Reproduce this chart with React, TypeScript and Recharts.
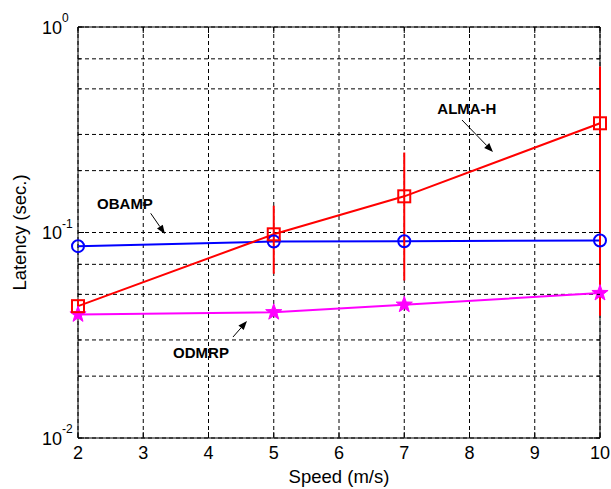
import { ComposedChart, Line, XAxis, YAxis, CartesianGrid, ErrorBar, ReferenceArea, ReferenceLine, ReferenceDot } from 'recharts';

// speed (m/s) and latency (sec.)
const speeds = [2, 5, 7, 10];
const almaH = [0.0438, 0.098, 0.15, 0.34];
const almaHLow = [0.041, 0.063, 0.0584, 0.0394];
const almaHHigh = [0.047, 0.135, 0.245, 0.643];
const obamp = [0.0858, 0.0904, 0.0907, 0.0914];
const odmrp = [0.0399, 0.0409, 0.0445, 0.0507];

const xTicks = [2, 3, 4, 5, 6, 7, 8, 9, 10];
const yTicks = [
  0.01, 0.02, 0.03, 0.04, 0.05, 0.06, 0.07, 0.08, 0.09,
  0.1, 0.2, 0.3, 0.4, 0.5, 0.6, 0.7, 0.8, 0.9, 1,
];

const seriesLabels = [
  { text: 'ALMA-H', x: 7.96, y: 0.403 },
  { text: 'OBAMP', x: 2.72, y: 0.139 },
  { text: 'ODMRP', x: 3.885, y: 0.0262 },
];
const arrows = [
  { x1: 7.885, y1: 0.3527, x2: 8.36, y2: 0.2464 },
  { x1: 3.114, y1: 0.124, x2: 3.333, y2: 0.0983 },
  { x1: 4.375, y1: 0.031, x2: 4.59, y2: 0.0371 },
];

const data = speeds.map((s, i) => ({
  speed: s,
  almaH: almaH[i],
  almaErr: [almaH[i] - almaHLow[i], almaHHigh[i] - almaH[i]],
  obamp: obamp[i],
  odmrp: odmrp[i],
}));

const W = 611;
const H = 489;
const margin = { top: 27, right: 11, bottom: 11, left: 10 };
const yAxisW = 68;
const xAxisH = 40;
const plotW = W - margin.left - margin.right - yAxisW;
const plotH = H - margin.top - margin.bottom - xAxisH;
const font = '"Liberation Sans", Arial, sans-serif';

function XTick({ x, y, payload }: any) {
  return (
    <g>
      <line x1={x} y1={y} x2={x} y2={y - 6} stroke="#000" />
      <line x1={x} y1={y - plotH} x2={x} y2={y - plotH + 6} stroke="#000" />
      <text x={x} y={y + 21} textAnchor="middle" fontSize={18} fontFamily={font} fill="#000">
        {payload.value}
      </text>
    </g>
  );
}

function YTick({ x, y, payload }: any) {
  const e = Math.log10(payload.value);
  const major = Math.abs(e - Math.round(e)) < 1e-6;
  const len = major ? 6 : 3;
  return (
    <g>
      <line x1={x} y1={y} x2={x + len} y2={y} stroke="#000" />
      <line x1={x + plotW} y1={y} x2={x + plotW - len} y2={y} stroke="#000" />
      {major && (
        <>
          <text x={x - 16} y={y + 6.5} textAnchor="end" fontSize={18} fontFamily={font} fill="#000">
            10
          </text>
          <text x={x - 16} y={y - 5} textAnchor="start" fontSize={12} fontFamily={font} fill="#000">
            {Math.round(e)}
          </text>
        </>
      )}
    </g>
  );
}

function SquareDot({ cx, cy }: any) {
  return <rect x={cx - 6} y={cy - 6} width={12} height={12} fill="none" stroke="#ff0000" strokeWidth={2} />;
}

function CircleDot({ cx, cy }: any) {
  return <circle cx={cx} cy={cy} r={6} fill="none" stroke="#0000ff" strokeWidth={2} />;
}

function StarDot({ cx, cy }: any) {
  const pts: string[] = [];
  for (let k = 0; k < 10; k++) {
    const r = k % 2 === 0 ? 8.5 : 3.4;
    const a = -Math.PI / 2 + (k * Math.PI) / 5;
    pts.push(`${cx + r * Math.cos(a)},${cy + r * Math.sin(a)}`);
  }
  return <polygon points={pts.join(' ')} fill="#ff00ff" stroke="#ff00ff" strokeWidth={1} />;
}

function Arrow({ x1, y1, x2, y2 }: any) {
  const ang = Math.atan2(y2 - y1, x2 - x1);
  const L = 9;
  const w = 3.5;
  const bx = x2 - L * Math.cos(ang);
  const by = y2 - L * Math.sin(ang);
  const px = -Math.sin(ang) * w;
  const py = Math.cos(ang) * w;
  return (
    <g>
      <line x1={x1} y1={y1} x2={bx} y2={by} stroke="#000" strokeWidth={1} />
      <polygon points={`${x2},${y2} ${bx + px},${by + py} ${bx - px},${by - py}`} fill="#000" />
    </g>
  );
}

function XTitle({ viewBox }: any) {
  return (
    <text x={viewBox.x + viewBox.width / 2} y={viewBox.y + 45} textAnchor="middle" fontSize={18.5} fontFamily={font} fill="#000">
      Speed (m/s)
    </text>
  );
}

function YTitle({ viewBox }: any) {
  const cx = 26;
  const cy = viewBox.y + viewBox.height / 2;
  return (
    <text x={cx} y={cy} transform={`rotate(-90 ${cx} ${cy})`} textAnchor="middle" fontSize={18.5} fontFamily={font} fill="#000">
      Latency (sec.)
    </text>
  );
}

export default function App() {
  return (
    <div style={{ position: 'absolute', left: 0, top: 0, width: W, height: H, background: '#fff' }}>
      <ComposedChart width={W} height={H} data={data} margin={margin}>
        <CartesianGrid stroke="#000" strokeDasharray="4 3" strokeWidth={1} />
        <XAxis
          dataKey="speed"
          type="number"
          domain={[2, 10]}
          ticks={xTicks}
          height={xAxisH}
          tickSize={0}
          tickMargin={0}
          tickLine={false}
          axisLine={false}
          tick={<XTick />}
          label={<XTitle />}
        />
        <YAxis
          type="number"
          scale="log"
          domain={[0.01, 1]}
          ticks={yTicks}
          width={yAxisW}
          tickSize={0}
          tickMargin={0}
          tickLine={false}
          axisLine={false}
          tick={<YTick />}
          label={<YTitle />}
          allowDataOverflow
        />
        <ReferenceArea x1={2} x2={10} y1={0.01} y2={1} fill="none" fillOpacity={0} stroke="#000" strokeWidth={1} />
        <Line
          dataKey="obamp"
          type="linear"
          stroke="#0000ff"
          strokeWidth={2}
          dot={<CircleDot />}
          activeDot={false}
          isAnimationActive={false}
        />
        <Line
          dataKey="odmrp"
          type="linear"
          stroke="#ff00ff"
          strokeWidth={2}
          dot={<StarDot />}
          activeDot={false}
          isAnimationActive={false}
        />
        <Line
          dataKey="almaH"
          type="linear"
          stroke="#ff0000"
          strokeWidth={2}
          dot={<SquareDot />}
          activeDot={false}
          isAnimationActive={false}
        >
          <ErrorBar dataKey="almaErr" direction="y" width={0} stroke="#ff0000" strokeWidth={2} />
        </Line>
        {arrows.map((a, i) => (
          <ReferenceLine
            key={`arrow-${i}`}
            segment={[{ x: a.x1, y: a.y1 }, { x: a.x2, y: a.y2 }]}
            shape={(p: any) => <Arrow {...p} />}
          />
        ))}
        {seriesLabels.map((l) => (
          <ReferenceDot
            key={l.text}
            x={l.x}
            y={l.y}
            r={0}
            shape={(p: any) => (
              <text x={p.cx} y={p.cy + 5.5} textAnchor="middle" fontSize={15} fontWeight="bold" fontFamily={font} fill="#000">
                {l.text}
              </text>
            )}
          />
        ))}
      </ComposedChart>
    </div>
  );
}
